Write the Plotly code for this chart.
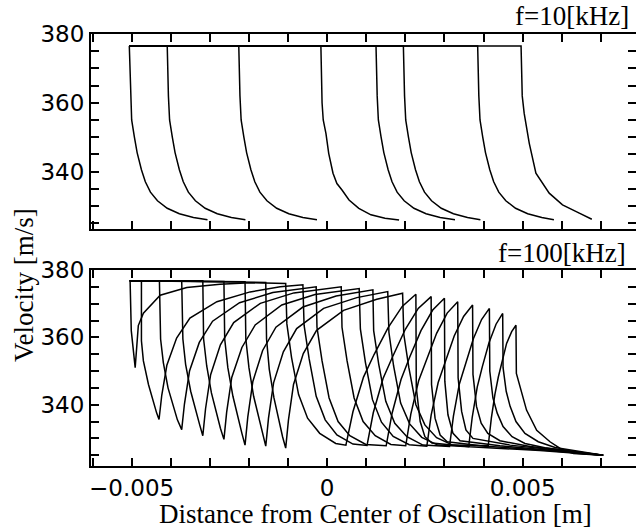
import plotly.graph_objects as go

# ---------------- data (x in mm, velocity in m/s) ----------------
X_TICK_MM = [-6, -5, -4, -3, -2, -1, 0, 1, 2, 3, 4, 5, 6, 7]
X_TICK_TEXT = ["", "\u22120.005", "", "", "", "", "0", "", "", "", "", "0.005", "", ""]
Y_TICK_VALUES = [325, 330, 335, 340, 345, 350, 355, 360, 365, 370, 375, 380]
Y_TICK_TEXT = ["", "", "", "340", "", "", "", "360", "", "", "", "380"]

# f = 10 kHz
T1_X = [-5.06, -5.03, -5.00, -4.93, -4.86, -4.75, -4.65, -4.52, -4.34, -4.09, -3.78, -3.42, -3.06]
T1_V = [376.5, 362, 355, 350, 345.5, 340.5, 337, 334, 331.5, 329.3, 327.7, 326.6, 326.0]
T2_X = [-5.06, -4.09, -4.06, -4.03, -3.96, -3.89, -3.78, -3.68, -3.55, -3.37, -3.12, -2.81, -2.45, -2.09]
T2_V = [376.5, 376.5, 362, 355, 350, 345.5, 340.5, 337, 334, 331.5, 329.3, 327.7, 326.6, 326.0]
T3_X = [-5.06, -2.26, -2.23, -2.20, -2.13, -2.06, -1.95, -1.85, -1.72, -1.54, -1.29, -0.98, -0.62, -0.26]
T3_V = [376.5, 376.5, 362, 355, 350, 345.5, 340.5, 337, 334, 331.5, 329.3, 327.7, 326.6, 326.0]
T4_X = [-5.06, -0.16, -0.13, -0.10, -0.03, 0.04, 0.15, 0.25, 0.38, 0.56, 0.81, 1.12, 1.48, 1.84]
T4_V = [376.5, 376.5, 360, 355, 351, 345.3, 339.5, 336.5, 334.6, 331.7, 329.3, 327.4, 326.4, 325.9]
T5_X = [-5.06, 1.25, 1.28, 1.31, 1.38, 1.45, 1.56, 1.66, 1.79, 1.97, 2.22, 2.53, 2.89, 3.27]
T5_V = [376.5, 376.5, 362, 355, 350, 345.5, 340.5, 337, 334, 331.5, 329.3, 327.7, 326.6, 326.0]
T6_X = [-5.06, 1.95, 1.98, 2.01, 2.08, 2.15, 2.26, 2.36, 2.49, 2.67, 2.92, 3.23, 3.59, 3.92]
T6_V = [376.5, 376.5, 362, 355, 350, 345.5, 340.5, 337, 334, 331.5, 329.3, 327.7, 326.6, 326.0]
T7_X = [-5.06, 3.85, 3.88, 3.91, 3.98, 4.05, 4.16, 4.26, 4.39, 4.57, 4.82, 5.13, 5.49, 5.80]
T7_V = [376.5, 376.5, 362, 355, 350, 345.5, 340.5, 337, 334, 331.5, 329.3, 327.7, 326.6, 326.0]
T8_X = [-5.06, 4.96, 4.99, 5.04, 5.17, 5.34, 5.68, 6.02, 6.45, 6.77]
T8_V = [376.5, 376.5, 362, 356.9, 348.2, 339.5, 333.7, 330.3, 327.9, 326.1]

# f = 100 kHz (eight wave trains)
B0_X = [-5.05, -1.57, -1.55, -1.48, -1.36, -1.24, -1.14, -1.06, -0.99, -0.86, -0.61, -0.27, 0.42, 1.27, 1.93,
        1.96, 2.09, 2.27, 2.50, 2.80, 3.21, 4.12, 4.20, 4.29, 4.38, 4.59, 4.72, 4.83,
        4.84, 5.10, 5.36, 5.70, 5.96, 6.30, 7.06]
B0_V = [376.8, 376.3, 359.5, 350.5, 342, 335.5, 330.5, 327.1, 335.4, 346.0, 355.2, 362.1, 368.0, 371.3, 373.1,
        361, 351, 340, 334, 330.2, 328, 327.8, 336, 343, 348.3, 358.2, 361.7, 363.6,
        349.3, 338.4, 332.4, 329, 327, 325.5, 325]
B1_X = [-5.05, -2.10, -2.08, -2.00, -1.88, -1.75, -1.65, -1.57, -1.50, -1.37, -1.12, -0.78, -0.09, 0.76, 1.55,
        1.58, 1.70, 1.88, 2.11, 2.42, 2.83, 3.62, 3.71, 3.84, 3.97, 4.14, 4.32, 4.49,
        4.50, 4.58, 4.68, 4.83, 5.06, 5.40, 5.83, 7.06]
B1_V = [376.8, 376.5, 359.5, 351, 342.5, 336, 331, 327.7, 336.0, 346.5, 355.7, 362.6, 368.6, 371.8, 373.6,
        361.5, 351.5, 340.5, 334.3, 330.3, 328, 327.5, 336.2, 345.3, 351.3, 358.4, 363.9, 367.1,
        351, 344, 339.5, 335, 331.5, 329, 327.3, 325]
B2_X = [-5.05, -2.64, -2.62, -2.54, -2.41, -2.29, -2.18, -2.10, -2.03, -1.90, -1.65, -1.31, -0.62, 0.23, 1.17,
        1.19, 1.32, 1.50, 1.73, 2.04, 2.45, 3.13, 3.23, 3.38, 3.54, 3.74, 3.95, 4.15,
        4.16, 4.24, 4.35, 4.50, 4.73, 5.06, 5.57, 7.06]
B2_V = [376.8, 376.6, 359.5, 351, 342.5, 336.5, 331.5, 328, 336.3, 346.9, 356.1, 363.0, 369.0, 372.3, 374.1,
        362, 352, 341, 334.5, 330.5, 328, 327.6, 336.6, 346.1, 352.2, 359.6, 365.3, 368.6,
        350, 342, 337.5, 333.5, 330.5, 328.5, 327.2, 325]
B3_X = [-5.05, -3.18, -3.16, -3.08, -2.96, -2.83, -2.73, -2.64, -2.57, -2.44, -2.18, -1.84, -1.16, -0.31, 0.82,
        0.85, 0.98, 1.16, 1.39, 1.69, 2.10, 2.55, 2.66, 2.84, 3.02, 3.25, 3.49, 3.72,
        3.73, 3.82, 3.94, 4.11, 4.42, 5.19, 5.96, 7.06]
B3_V = [376.8, 376.8, 359.5, 351.5, 343.5, 337.5, 333, 329.7, 337.8, 348.1, 357.0, 363.7, 369.6, 372.7, 374.5,
        362.5, 352.5, 341.5, 334.8, 330.6, 328.1, 327.7, 336.9, 346.6, 352.8, 360.4, 366.2, 369.6,
        349, 339.5, 334.5, 331.5, 329.3, 327.6, 326.6, 325]
B4_X = [-5.05, -3.72, -3.69, -3.62, -3.49, -3.37, -3.26, -3.18, -3.11, -2.98, -2.73, -2.39, -1.71, -0.85, 0.36,
        0.38, 0.51, 0.69, 0.92, 1.23, 1.63, 2.01, 2.14, 2.34, 2.54, 2.80, 3.07, 3.34,
        3.35, 3.44, 3.55, 3.73, 4.68, 5.83, 7.06]
B4_V = [376.8, 376.8, 359.5, 352, 344, 338.5, 334, 330.8, 338.8, 348.9, 357.8, 364.4, 370.1, 373.2, 375.0,
        363, 353, 342, 335, 330.8, 328.2, 327.8, 337.2, 347.1, 353.5, 361.2, 367.2, 370.6,
        348, 338, 332.5, 330, 328, 326.6, 325]
B5_X = [-5.05, -4.29, -4.26, -4.19, -4.07, -3.94, -3.83, -3.72, -3.65, -3.52, -3.27, -2.93, -2.24, -1.39, -0.28,
        -0.26, -0.13, 0.05, 0.28, 0.58, 0.99, 1.51, 1.66, 1.89, 2.11, 2.40, 2.70, 3.00,
        3.01, 3.09, 3.22, 3.40, 4.42, 5.70, 7.06]
B5_V = [376.8, 376.8, 359.5, 352.5, 345, 339.5, 335.5, 332.6, 340.2, 350.0, 358.5, 364.8, 370.3, 373.3, 375.0,
        363, 353, 342, 335, 330.8, 328.2, 327.8, 337.4, 347.5, 354.1, 362.0, 368.1, 371.6,
        347, 337, 331.5, 329.3, 327.8, 326.5, 325]
B6_X = [-5.05, -4.75, -4.75, -4.70, -4.57, -4.45, -4.36, -4.30, -4.23, -4.10, -3.85, -3.51, -2.82, -1.97, -1.20, -0.62,
        -0.59, -0.46, -0.28, -0.05, 0.25, 0.66, 1.02, 1.18, 1.43, 1.68, 2.00, 2.33, 2.66,
        2.67, 2.76, 2.89, 3.07, 4.04, 5.57, 7.06]
B6_V = [376.8, 376.8, 359, 353, 346, 341, 337.5, 335.6, 342.8, 351.7, 359.8, 365.7, 370.6, 373.5, 375.0, 375.6,
        363.6, 353.6, 342.5, 335.5, 331, 328.3, 327.9, 337.6, 347.8, 354.4, 362.4, 368.6, 372.1,
        346, 336, 331, 329, 327.7, 326.5, 325]
B7_X = [-5.05, -5.04, -5.01, -4.91, -4.83, -4.70, -4.27, -3.59, -2.74, -1.97, -1.06,
        -1.03, -0.91, -0.73, -0.50, -0.19, 0.22, 0.48, 0.66, 0.93, 1.20, 1.56, 1.92, 2.27,
        2.28, 2.38, 2.50, 2.68, 3.65, 5.44, 7.06]
B7_V = [376.8, 376.8, 362, 351, 363.5, 367.2, 372.5, 374.8, 375.8, 376.2, 376.0,
        364, 354, 343, 336, 331.5, 328.5, 328.0, 337.9, 348.2, 354.9, 362.9, 369.2, 372.8,
        345, 335, 330.5, 328.6, 327.5, 326.4, 325]

TOP_CURVES = [(T1_X, T1_V), (T2_X, T2_V), (T3_X, T3_V), (T4_X, T4_V),
              (T5_X, T5_V), (T6_X, T6_V), (T7_X, T7_V), (T8_X, T8_V)]
BOTTOM_CURVES = [(B0_X, B0_V), (B1_X, B1_V), (B2_X, B2_V), (B3_X, B3_V),
                 (B4_X, B4_V), (B5_X, B5_V), (B6_X, B6_V), (B7_X, B7_V)]

TOP_LABEL = "f=10[kHz]"
BOTTOM_LABEL = "f=100[kHz]"
X_TITLE = "Distance from Center of Oscillation [m]"
Y_TITLE = "Velocity [m/s]"

# ---------------- figure ----------------
MM = 0.001
LINE = dict(color="black", width=1.5)

fig = go.Figure()
for xs, vs in TOP_CURVES:
    fig.add_trace(go.Scatter(x=[v * MM for v in xs], y=vs, mode="lines", line=LINE,
                             xaxis="x2", yaxis="y2", hoverinfo="skip"))
for xs, vs in BOTTOM_CURVES:
    fig.add_trace(go.Scatter(x=[v * MM for v in xs], y=vs, mode="lines", line=LINE,
                             xaxis="x", yaxis="y", hoverinfo="skip"))
# empty traces so the right-hand tick axes get drawn
fig.add_trace(go.Scatter(x=[], y=[], xaxis="x", yaxis="y3"))
fig.add_trace(go.Scatter(x=[], y=[], xaxis="x2", yaxis="y4"))

X_RANGE = [-0.00604, 0.00790]
tickfont = dict(family="DejaVu Sans", size=23, color="black")
xcommon = dict(range=X_RANGE, tickmode="array", tickvals=[v * MM for v in X_TICK_MM],
               ticks="inside", ticklen=8, tickwidth=1.5, tickcolor="black",
               showline=True, linewidth=2, linecolor="black", mirror="ticks",
               showgrid=False, zeroline=False, tickfont=tickfont)
ycommon = dict(tickmode="array", tickvals=Y_TICK_VALUES, ticktext=Y_TICK_TEXT,
               ticks="inside", ticklen=8, tickwidth=1.5, tickcolor="black",
               showline=True, linewidth=2, linecolor="black",
               showgrid=False, zeroline=False, tickfont=tickfont)
yright = dict(tickmode="array", tickvals=Y_TICK_VALUES, side="right",
              ticks="inside", ticklen=8, tickwidth=1.5, tickcolor="black",
              showticklabels=False, showline=False, showgrid=False, zeroline=False)

BOT_DOM = [0.0, 0.4537]
TOP_DOM = [0.548, 1.0]
BOT_RANGE = [321.8, 380]
TOP_RANGE = [323.2, 380]

fig.update_layout(
    width=636, height=529,
    margin=dict(l=91, r=0, t=34, b=63),
    paper_bgcolor="white", plot_bgcolor="white",
    showlegend=False,
    xaxis=dict(domain=[0, 1], anchor="y", ticktext=X_TICK_TEXT, **xcommon),
    xaxis2=dict(domain=[0, 1], anchor="y2", showticklabels=False, **xcommon),
    yaxis=dict(domain=BOT_DOM, anchor="x", range=BOT_RANGE, **ycommon),
    yaxis2=dict(domain=TOP_DOM, anchor="x2", range=TOP_RANGE, **ycommon),
    yaxis3=dict(overlaying="y", anchor="x", range=BOT_RANGE, **yright),
    yaxis4=dict(overlaying="y2", anchor="x2", range=TOP_RANGE, **yright),
    annotations=[
        dict(text=TOP_LABEL, xref="paper", yref="paper", x=0.9908, y=1.0417,
             xanchor="right", yanchor="middle", showarrow=False,
             font=dict(family="Liberation Serif", size=27, color="black")),
        dict(text=BOTTOM_LABEL, xref="paper", yref="paper", x=0.9853, y=0.493,
             xanchor="right", yanchor="middle", showarrow=False,
             font=dict(family="Liberation Serif", size=27, color="black")),
        dict(text=X_TITLE, xref="paper", yref="paper", x=0.522, y=-0.112,
             xanchor="center", yanchor="middle", showarrow=False,
             font=dict(family="Liberation Serif", size=27, color="black")),
        dict(text=Y_TITLE, xref="paper", yref="paper", x=-0.123, y=0.419,
             xanchor="center", yanchor="middle", showarrow=False, textangle=-90,
             font=dict(family="Liberation Serif", size=27, color="black")),
    ],
)

fig.write_html("out.html")
